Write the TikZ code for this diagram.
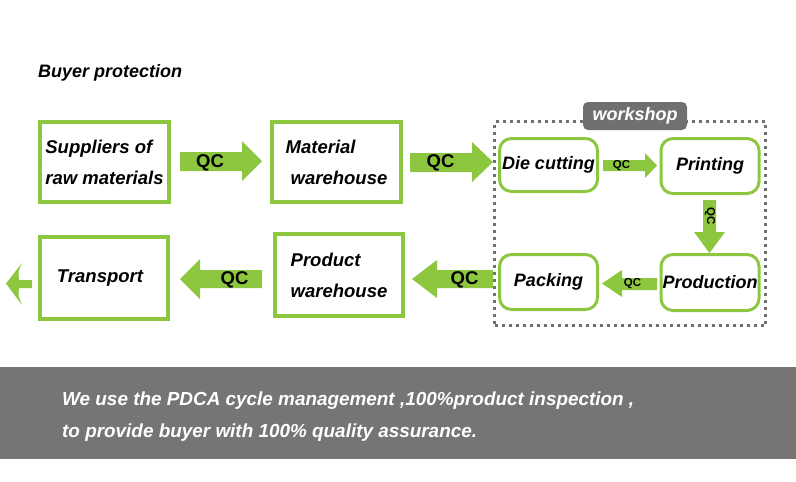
\documentclass[tikz,border=0pt]{standalone}
\usepackage{fontspec}
\setmainfont{Liberation Sans}
\definecolor{leaf}{RGB}{141,198,63}
\definecolor{band}{RGB}{118,116,117}
\definecolor{dotgrey}{RGB}{112,112,112}

\begin{document}
\begin{tikzpicture}[x=1pt,y=-1pt]
\tikzstyle{every node}=[inner sep=0pt]
\tikzstyle{box}=[draw=leaf,line width=4pt,align=left,
  font=\fontsize{18.5}{31}\selectfont\bfseries\itshape]
\tikzstyle{roundbox}=[draw=leaf,line width=3pt,rounded corners=12pt,
  minimum width=98pt,minimum height=55pt,
  font=\fontsize{18}{22}\selectfont\bfseries\itshape]
\tikzstyle{qc}=[font=\fontsize{18.5}{20}\selectfont\bfseries]
\tikzstyle{smallqc}=[font=\fontsize{11.5}{12}\selectfont\bfseries]
\tikzstyle{note}=[anchor=base west,text=white,
  font=\fontsize{18.9}{20}\selectfont\bfseries\itshape]
\useasboundingbox (0,0) rectangle (796,482);

\node[anchor=base west,font=\fontsize{18}{20}\selectfont\bfseries\itshape]
  (title) at (38,77) {Buyer protection};

% big boxes
\node[box,minimum width=129pt,minimum height=80pt] (suppliers) at (104.5,162)
  {Suppliers of\\raw materials};
\node[box,minimum width=129pt,minimum height=80pt] (material) at (336.5,162)
  {Material\\\hspace{5pt}warehouse};
\node[box,minimum width=128pt,minimum height=82pt] (product) at (339,275)
  {Product\\warehouse};
\node[box,minimum width=128pt,minimum height=82pt] (transport) at (104,278)
  {\hspace{-8pt}Transport};

% workshop
\node[draw=dotgrey,line width=3pt,dash pattern=on 3pt off 4pt,
  minimum width=271pt,minimum height=204pt] (frame) at (630,223.5) {};
\node[fill=dotgrey,rounded corners=5pt,minimum width=104pt,minimum height=28pt,
  text=white,font=\fontsize{18}{20}\selectfont\bfseries\itshape]
  (workshop) at (635,116) {workshop};
\node[roundbox,minimum height=53pt] (diecut) at (548.5,165) {Die cutting};
\node[roundbox] (printing) at (710,166) {Printing};
\node[roundbox,minimum height=56pt] (production) at (710,282.5) {Production};
\node[roundbox] (packing) at (548.5,282) {Packing};

% arrows
\fill[leaf] (180,152) -- (242,152) -- (242,141) -- (262,161) -- (242,181)
  -- (242,171) -- (180,171) -- cycle;
\fill[leaf] (410,153) -- (472,153) -- (472,142) -- (493,162) -- (472,182)
  -- (472,172) -- (410,172) -- cycle;
\fill[leaf] (603,160) -- (645,160) -- (645,153) -- (657,165.5) -- (645,178)
  -- (645,171) -- (603,171) -- cycle;
\fill[leaf] (703,200) -- (716,200) -- (716,232) -- (725,232) -- (709.5,253)
  -- (694,232) -- (703,232) -- cycle;
\fill[leaf] (657,278) -- (622,278) -- (622,270) -- (602,283.5) -- (622,297)
  -- (622,290) -- (657,290) -- cycle;
\fill[leaf] (493,270) -- (437,270) -- (437,260) -- (412,279) -- (437,298)
  -- (437,288) -- (493,288) -- cycle;
\fill[leaf] (262,270) -- (200,270) -- (200,259) -- (180,279) -- (200,299)
  -- (200,288) -- (262,288) -- cycle;
\fill[leaf] (6,283.5) -- (22,263) .. controls (18,272) .. (19,280) -- (32,280)
  -- (32,288) -- (19,288) .. controls (18,295) .. (22,305) -- cycle;

\node[qc] (qc1) at (210,162.5) {QC};
\node[qc] (qc2) at (440.5,162.5) {QC};
\node[smallqc] (qc3) at (621.5,166) {QC};
\node[smallqc,rotate=-90] (qc4) at (710,216) {QC};
\node[smallqc] (qc5) at (632.5,284) {QC};
\node[qc] (qc6) at (464.5,280) {QC};
\node[qc] (qc7) at (234.5,280) {QC};

% note
\fill[band] (0,367) rectangle (796,459);
\node[note] (note1) at (62,405)
  {We use the PDCA cycle management ,100\%product inspection ,};
\node[note] (note2) at (62,437)
  {to provide buyer with 100\% quality assurance.};
\end{tikzpicture}
\end{document}
